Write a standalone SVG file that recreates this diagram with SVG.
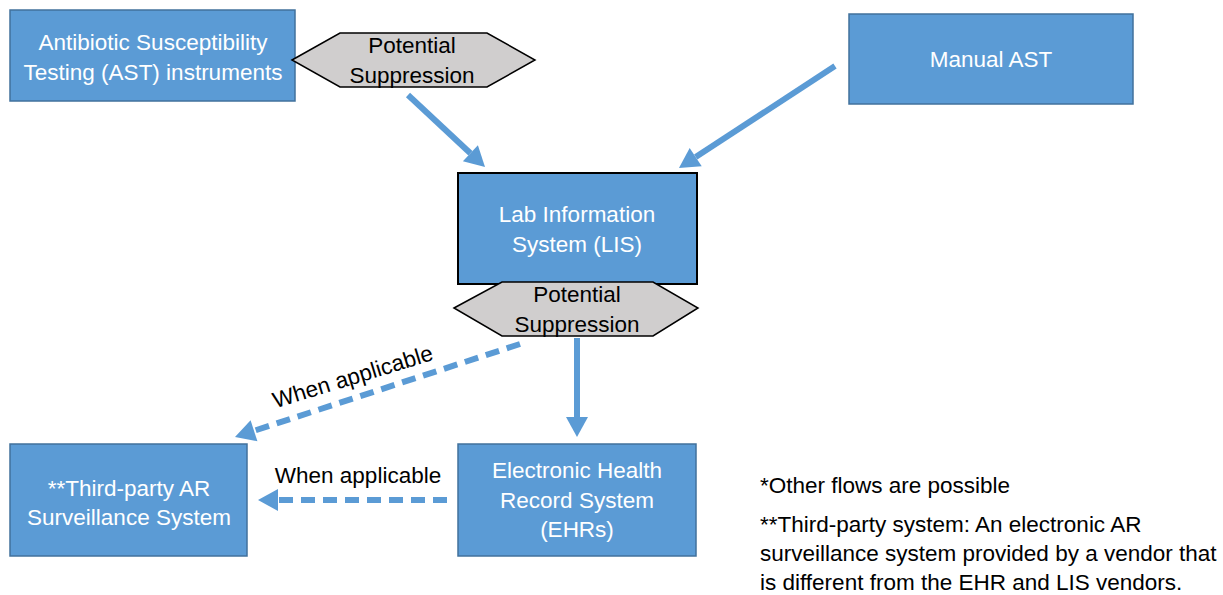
<svg xmlns="http://www.w3.org/2000/svg" width="1223" height="595" viewBox="0 0 1223 595">
<defs>
<style>
.box{fill:#5B9BD5;stroke:#41719C;stroke-width:1.5}
.lis{fill:#5B9BD5;stroke:#000;stroke-width:2}
.hex{fill:#D0CECE;stroke:#000;stroke-width:1.5}
.wt{font-family:"Liberation Sans",Arial,sans-serif;font-size:22.5px;fill:#fff;text-anchor:middle}
.bt{font-family:"Liberation Sans",Arial,sans-serif;font-size:22.5px;fill:#000;text-anchor:middle}
.nt{font-family:"Liberation Sans",Arial,sans-serif;font-size:22.5px;fill:#000}
.conn{stroke:#5B9BD5;stroke-width:6;fill:none}
.dash{stroke-dasharray:14 8}
</style>
<marker id="ah" markerUnits="userSpaceOnUse" markerWidth="20" markerHeight="22" refX="0" refY="11" orient="auto" overflow="visible">
<path d="M0,0 L20,11 L0,22 Z" fill="#5B9BD5"/>
</marker>
</defs>
<rect width="1223" height="595" fill="#fff"/>
<g id="connectors">
<line class="conn" x1="408" y1="95" x2="470.4" y2="153.3" marker-end="url(#ah)"/>
<line class="conn" x1="835" y1="66" x2="695.7" y2="157.1" marker-end="url(#ah)"/>
<line class="conn" x1="577" y1="338" x2="577" y2="417" marker-end="url(#ah)"/>
<line class="conn dash" x1="520" y1="344" x2="254" y2="430.8" marker-end="url(#ah)"/>
<line class="conn dash" x1="447" y1="500" x2="278" y2="500" marker-end="url(#ah)"/>
<text class="bt" transform="translate(355,384) rotate(-17)">When applicable</text>
<text class="bt" x="358" y="483">When applicable</text>
</g>
<g id="ast">
<rect class="box" x="10" y="10" width="285" height="91"/>
<text class="wt" x="153" y="50">Antibiotic Susceptibility</text>
<text class="wt" x="153" y="80">Testing (AST) instruments</text>
</g>
<g id="supp1">
<polygon class="hex" points="292,60 340,33 487,33 535,60 487,87 340,87"/>
<text class="bt" x="412" y="53">Potential</text>
<text class="bt" x="412" y="83">Suppression</text>
</g>
<g id="manual">
<rect class="box" x="849" y="14" width="284" height="90"/>
<text class="wt" x="991" y="67">Manual AST</text>
</g>
<g id="lis">
<rect class="lis" x="458" y="173" width="239" height="111"/>
<text class="wt" x="577" y="222">Lab Information</text>
<text class="wt" x="577" y="252">System (LIS)</text>
</g>
<g id="supp2">
<polygon class="hex" points="454,308 502,282 653,282 698,308 653,336 502,336"/>
<text class="bt" x="577" y="302">Potential</text>
<text class="bt" x="577" y="332">Suppression</text>
</g>
<g id="thirdparty">
<rect class="box" x="10" y="444" width="237" height="112"/>
<text class="wt" x="129" y="496">**Third-party AR</text>
<text class="wt" x="129" y="525">Surveillance System</text>
</g>
<g id="ehr">
<rect class="box" x="458" y="444" width="238" height="112"/>
<text class="wt" x="577" y="478">Electronic Health</text>
<text class="wt" x="577" y="508">Record System</text>
<text class="wt" x="577" y="537">(EHRs)</text>
</g>
<g id="notes">
<text class="nt" x="760" y="493">*Other flows are possible</text>
<text class="nt" x="760" y="532">**Third-party system: An electronic AR</text>
<text class="nt" x="760" y="561">surveillance system provided by a vendor that</text>
<text class="nt" x="760" y="590">is different from the EHR and LIS vendors.</text>
</g>
</svg>
